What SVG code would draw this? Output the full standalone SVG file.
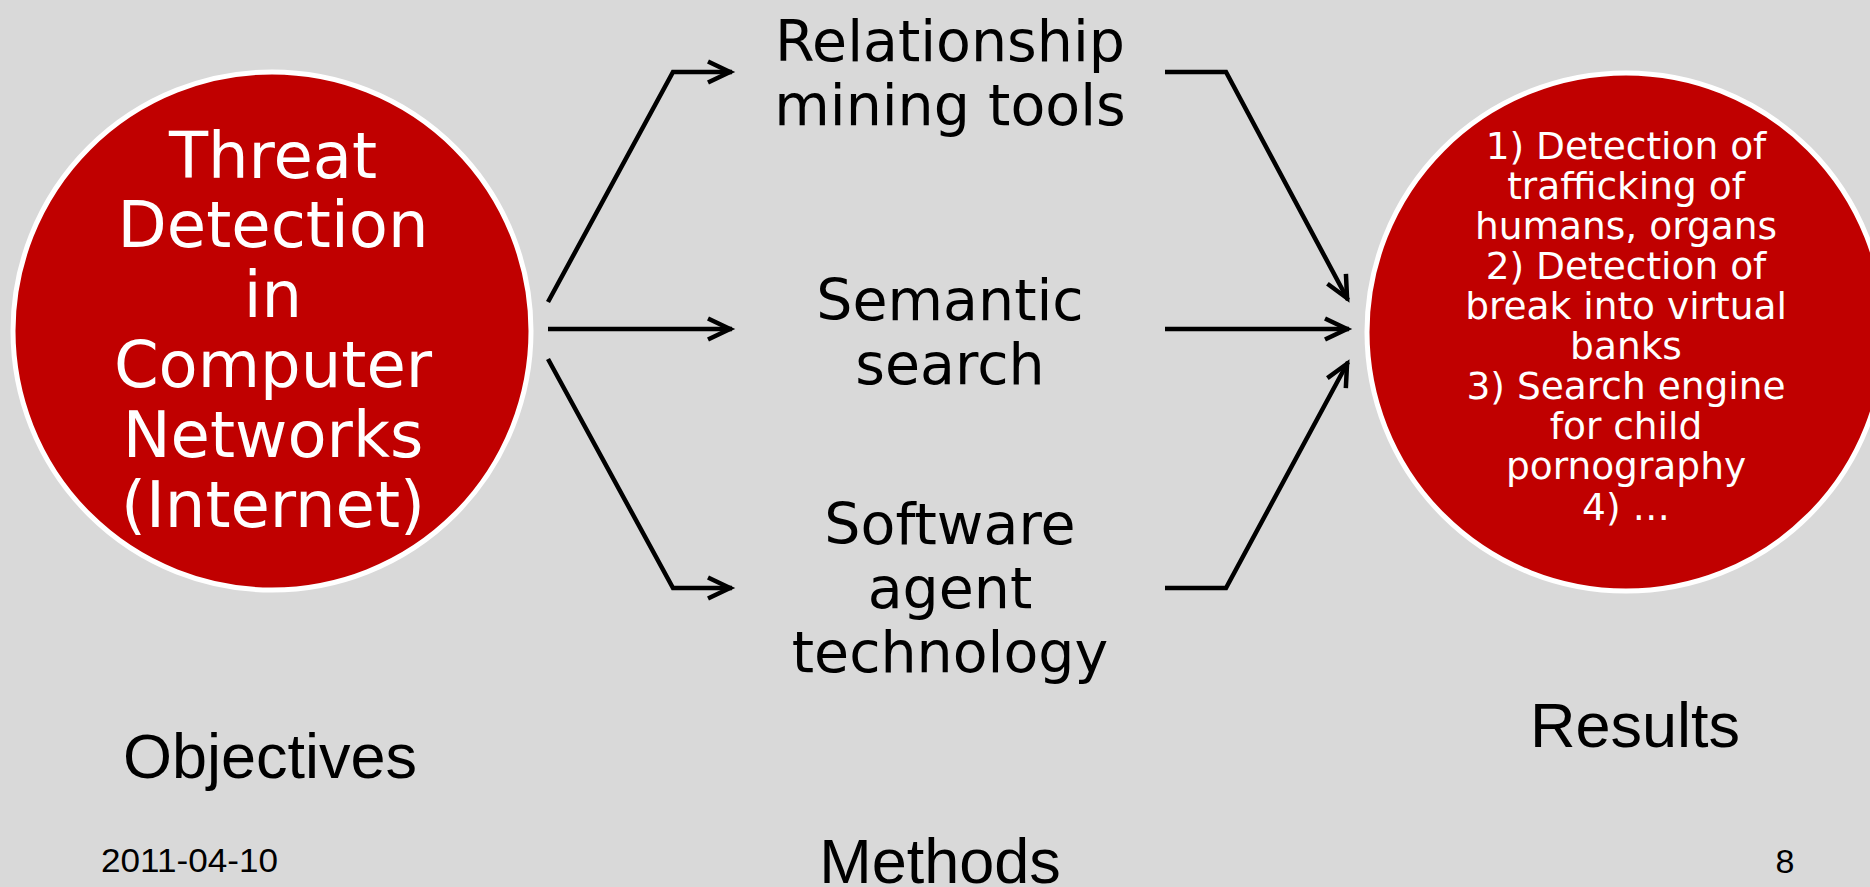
<svg xmlns="http://www.w3.org/2000/svg" width="1870" height="887" viewBox="0 0 1870 887">
<style>
.bg{fill:#D9D9D9}
.circ{fill:#C00000;stroke:#FFFFFF;stroke-width:5}
.ctext{font-family:"DejaVu Sans",Verdana,sans-serif;fill:#FFFFFF;text-anchor:middle}
.mtext{font-family:"DejaVu Sans",Verdana,sans-serif;font-size:57px;fill:#000000;text-anchor:middle}
.label{font-family:"Liberation Sans",Arial,sans-serif;font-size:63px;fill:#000000;text-anchor:middle}
.foot{font-family:"Liberation Sans",Arial,sans-serif;font-size:34px;fill:#000000}
.conn{fill:none;stroke:#000000;stroke-width:4.5;stroke-linejoin:miter;marker-end:url(#arr)}
</style>
<defs>
<marker id="arr" markerUnits="userSpaceOnUse" markerWidth="40" markerHeight="40" viewBox="-30 -20 40 40" refX="0" refY="0" orient="auto" overflow="visible">
<path d="M-24,-10.5 L-2,0 L-24,10.5" fill="none" stroke="#000000" stroke-width="4.5"/>
</marker>
</defs>
<rect class="bg" x="0" y="0" width="1870" height="887"/>

<g id="objective">
<circle class="circ" cx="272" cy="331" r="259"/>
<text class="ctext" font-size="64"><tspan x="273" y="178">Threat</tspan><tspan x="273" y="247">Detection</tspan><tspan x="273" y="317">in</tspan><tspan x="273" y="387">Computer</tspan><tspan x="273" y="457">Networks</tspan><tspan x="273" y="527">(Internet)</tspan></text>
</g>

<g id="results">
<circle class="circ" cx="1626" cy="332" r="259"/>
<text class="ctext" font-size="37.5"><tspan x="1626" y="159">1) Detection of</tspan><tspan x="1626" y="199">trafficking of</tspan><tspan x="1626" y="239">humans, organs</tspan><tspan x="1626" y="279">2) Detection of</tspan><tspan x="1626" y="319">break into virtual</tspan><tspan x="1626" y="359">banks</tspan><tspan x="1626" y="399">3) Search engine</tspan><tspan x="1626" y="439">for child</tspan><tspan x="1626" y="479">pornography</tspan><tspan x="1626" y="520">4) …</tspan></text>
</g>

<g id="method-relationship">
<text class="mtext"><tspan x="950" y="61">Relationship</tspan><tspan x="950" y="125">mining tools</tspan></text>
</g>
<g id="method-semantic">
<text class="mtext"><tspan x="950" y="320">Semantic</tspan><tspan x="950" y="384">search</tspan></text>
</g>
<g id="method-agent">
<text class="mtext"><tspan x="950" y="544">Software</tspan><tspan x="950" y="608">agent</tspan><tspan x="950" y="672">technology</tspan></text>
</g>

<g id="connectors">
<polyline class="conn" points="548,302 673,72 732,72"/>
<polyline class="conn" points="548,329 732,329"/>
<polyline class="conn" points="548,359 673,588 732,588"/>
<polyline class="conn" points="1165,72 1226,72 1348,300"/>
<polyline class="conn" points="1165,329 1349,329"/>
<polyline class="conn" points="1165,588 1226,588 1348,362"/>
</g>

<g id="labels">
<text class="label" x="270" y="778">Objectives</text>
<text class="label" x="1635" y="747">Results</text>
<text class="label" x="940" y="883">Methods</text>
</g>
<g id="footer">
<text class="foot" x="101" y="872" textLength="177" lengthAdjust="spacingAndGlyphs">2011-04-10</text>
<text class="foot" x="1785" y="873" text-anchor="middle">8</text>
</g>
</svg>
